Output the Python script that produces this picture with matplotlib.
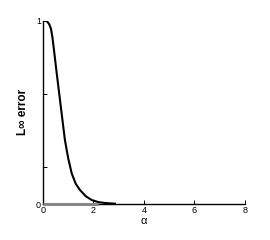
import matplotlib

matplotlib.use("Agg")
import matplotlib.pyplot as plt

# L-infinity error vs alpha
alpha = [0.0, 0.08, 0.17, 0.25, 0.32, 0.38, 0.45, 0.54, 0.62, 0.70, 0.78,
         0.87, 1.00, 1.14, 1.30, 1.47, 1.70, 1.93, 2.20, 2.50, 2.85]
err = [1.0, 1.0, 0.995, 0.98, 0.955, 0.905, 0.825, 0.72, 0.63, 0.54, 0.45,
       0.35, 0.25, 0.167, 0.11, 0.076, 0.042, 0.022, 0.010, 0.005, 0.002]
# second series lying on zero
alpha2 = [0.0, 2.2]
err2 = [0.0, 0.0]

xticks = [0, 2, 4, 6, 8]
yticks = [0, 0.2, 0.6, 1]
ytick_labels = ["0", "", "", "1"]

plt.rcParams["font.family"] = ["Liberation Sans", "DejaVu Sans"]

fig = plt.figure(figsize=(2.7, 2.4), dpi=100)
ax = fig.add_axes([0.159, 0.15, 0.748, 0.764])

ax.plot(alpha2, err2, color="#888888", linewidth=2.2, solid_capstyle="butt",
        zorder=4, clip_on=False)
ax.plot(alpha, err, color="black", linewidth=1.5, zorder=3)

ax.set_xlim(0, 8)
ax.set_ylim(0, 1)
ax.set_xticks(xticks)
ax.set_yticks(yticks)
ax.set_yticklabels(ytick_labels)
ax.tick_params(direction="in", length=3, width=0.7, labelsize=6.5, pad=1.5)
for side in ("top", "right"):
    ax.spines[side].set_visible(False)
for side in ("left", "bottom"):
    ax.spines[side].set_linewidth(1.0)

ax.set_xlabel("α", fontsize=8, labelpad=1)
ax.set_ylabel("L∞ error", fontsize=8.5, fontweight="bold", labelpad=5)

fig.savefig("out.png", dpi=100)
